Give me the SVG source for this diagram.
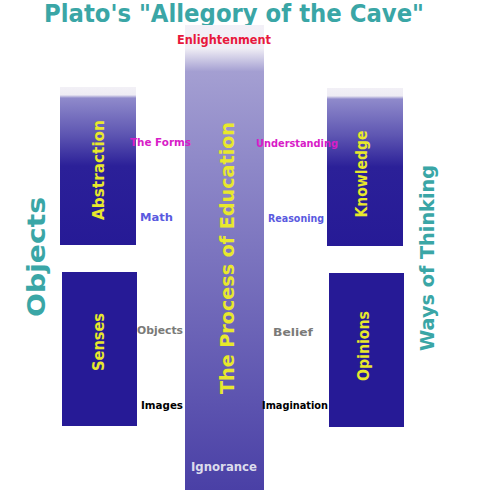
<svg xmlns="http://www.w3.org/2000/svg" width="500" height="500" viewBox="0 0 500 500">
<style>
text{font-family:"Comic Sans MS","DejaVu Sans",sans-serif;font-weight:bold}
.teal{fill:#3aa6a6}
.yel{fill:#e8e82c}
.lbl{font-size:11px}
.mag{fill:#d81cc8}
.blu{fill:#5a5ae0}
.gry{fill:#7a7a78}
.blk{fill:#000}
.box{fill:#261a96}
</style>
<defs>
<linearGradient id="col" x1="0" y1="0" x2="0" y2="1">
<stop offset="0" stop-color="#f3f0f7"/>
<stop offset="0.05" stop-color="#f0eef5"/>
<stop offset="0.1" stop-color="#a49fd2"/>
<stop offset="0.3" stop-color="#8e88c8"/>
<stop offset="1" stop-color="#4a40a6"/>
</linearGradient>
<linearGradient id="upper" x1="0" y1="0" x2="0" y2="1">
<stop offset="0" stop-color="#f2f0f6"/>
<stop offset="0.05" stop-color="#eeecf4"/>
<stop offset="0.07" stop-color="#8f8acb"/>
<stop offset="0.3" stop-color="#5e56b2"/>
<stop offset="0.5" stop-color="#2b2098"/>
<stop offset="1" stop-color="#261a96"/>
</linearGradient>
</defs>
<text x="234" y="22" text-anchor="middle" class="teal" font-size="24" textLength="380" lengthAdjust="spacingAndGlyphs">Plato's "Allegory of the Cave"</text>
<g id="education">
<rect x="185" y="25" width="79" height="465" fill="url(#col)"/>
<text x="224" y="44" text-anchor="middle" font-size="13" fill="#e8183c" textLength="94" lengthAdjust="spacingAndGlyphs">Enlightenment</text>
<text transform="translate(234,258) rotate(-90)" text-anchor="middle" class="yel" font-size="20" textLength="272" lengthAdjust="spacingAndGlyphs">The Process of Education</text>
<text x="224" y="471" text-anchor="middle" font-size="13" fill="#dcdcec" textLength="66" lengthAdjust="spacingAndGlyphs">Ignorance</text>
</g>
<g id="abstraction">
<rect x="60" y="87" width="76" height="158" fill="url(#upper)"/>
<text transform="translate(104,170) rotate(-90)" text-anchor="middle" class="yel" font-size="16" textLength="100" lengthAdjust="spacingAndGlyphs">Abstraction</text>
</g>
<g id="senses">
<rect x="62" y="272" width="75" height="154" class="box"/>
<text transform="translate(104,342) rotate(-90)" text-anchor="middle" class="yel" font-size="16" textLength="58" lengthAdjust="spacingAndGlyphs">Senses</text>
</g>
<g id="knowledge">
<rect x="327" y="88" width="76" height="158" fill="url(#upper)"/>
<text transform="translate(367,174) rotate(-90)" text-anchor="middle" class="yel" font-size="16" textLength="87" lengthAdjust="spacingAndGlyphs">Knowledge</text>
</g>
<g id="opinions">
<rect x="329" y="273" width="75" height="154" class="box"/>
<text transform="translate(369,346) rotate(-90)" text-anchor="middle" class="yel" font-size="16" textLength="70" lengthAdjust="spacingAndGlyphs">Opinions</text>
</g>
<g id="objects-axis">
<text transform="translate(45,257) rotate(-90)" text-anchor="middle" class="teal" font-size="24" textLength="120" lengthAdjust="spacingAndGlyphs">Objects</text>
</g>
<g id="ways-axis">
<text transform="translate(434,258) rotate(-90)" text-anchor="middle" class="teal" font-size="20" textLength="186" lengthAdjust="spacingAndGlyphs">Ways of Thinking</text>
</g>
<g id="labels" class="lbl">
<text x="130" y="146" class="mag" textLength="61" lengthAdjust="spacingAndGlyphs">The Forms</text>
<text x="140" y="221" class="blu" textLength="33" lengthAdjust="spacingAndGlyphs">Math</text>
<text x="256" y="147" class="mag" textLength="82" lengthAdjust="spacingAndGlyphs">Understanding</text>
<text x="268" y="222" class="blu" textLength="56" lengthAdjust="spacingAndGlyphs">Reasoning</text>
<text x="137" y="334" class="gry" textLength="46" lengthAdjust="spacingAndGlyphs">Objects</text>
<text x="273" y="336" class="gry" textLength="40" lengthAdjust="spacingAndGlyphs">Belief</text>
<text x="141" y="409" class="blk" textLength="42" lengthAdjust="spacingAndGlyphs">Images</text>
<text x="262" y="409" class="blk" textLength="66" lengthAdjust="spacingAndGlyphs">Imagination</text>
</g>
</svg>
